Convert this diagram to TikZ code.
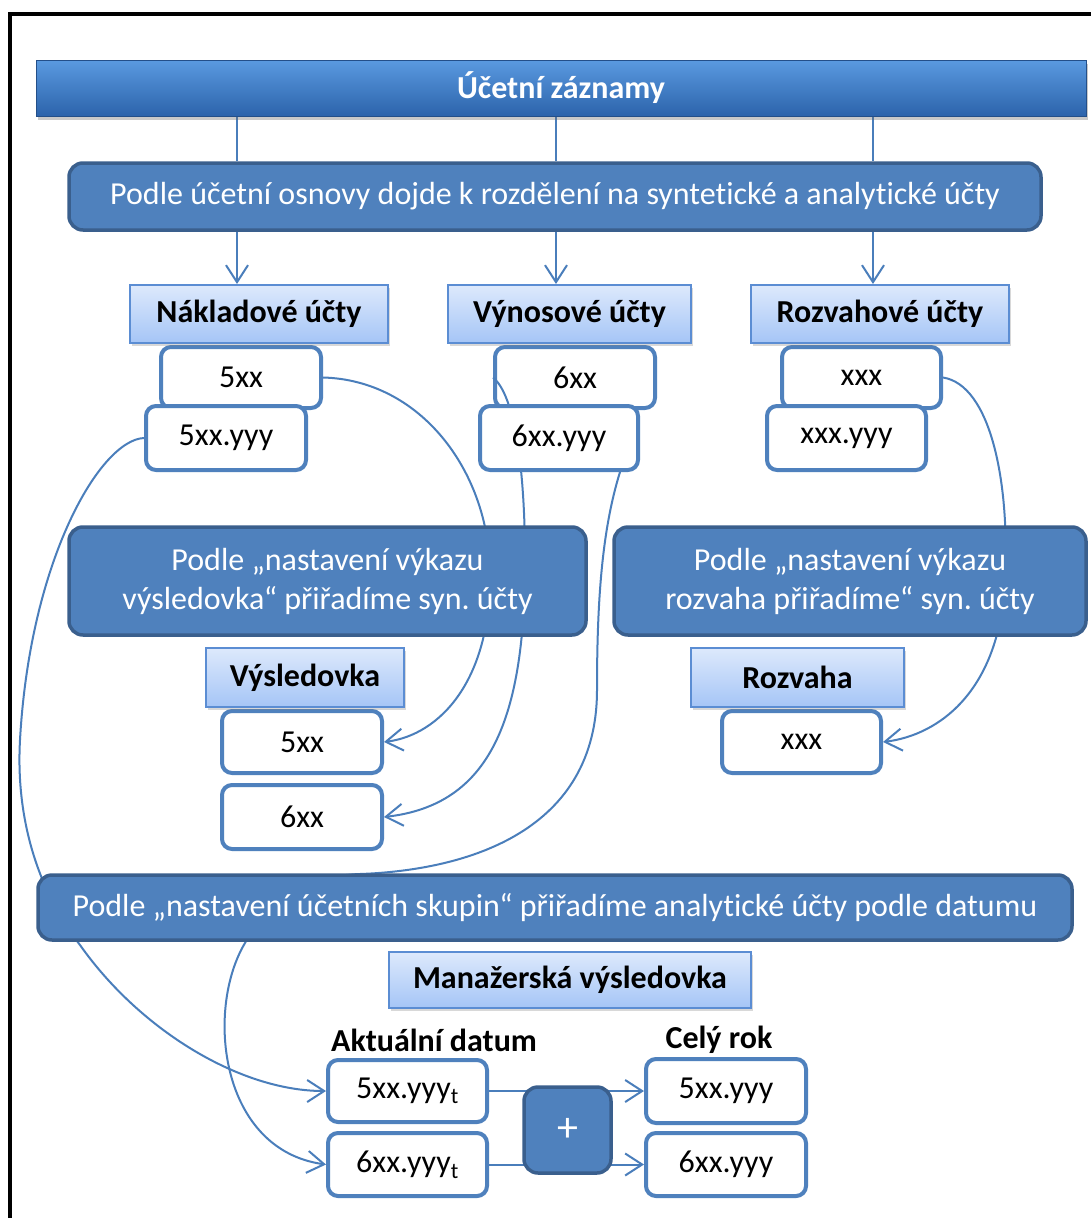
\documentclass[tikz,border=0pt]{standalone}
\usepackage{fontspec}
\setmainfont[Ligatures={NoCommon}]{Carlito}
\frenchspacing
\usetikzlibrary{arrows.meta,shadows,calc}

\definecolor{darkfill}{HTML}{4F81BD}
\definecolor{darkedge}{HTML}{3A5F8D}
\definecolor{linkblue}{HTML}{4A7EBB}
\definecolor{hdrtop}{HTML}{DDE9FC}
\definecolor{hdrbot}{HTML}{A5C5F6}
\definecolor{hdredge}{HTML}{5B8DD3}
\definecolor{bartop}{HTML}{5A9AE0}
\definecolor{barbot}{HTML}{2C63AB}

\pgfdeclarelayer{under}
\pgfdeclarelayer{links}
\pgfsetlayers{under,links,main}

\tikzset{
  sz/.style 2 args={minimum width=#1pt, minimum height=#2pt},
  topbar/.style={draw=barbot!80!black, line width=1pt, top color=bartop, bottom color=barbot,
    text=white, font=\bfseries\fontsize{32}{38}\selectfont, inner sep=0pt,
    drop shadow={shadow xshift=2pt, shadow yshift=-4pt, opacity=0.35, fill=black!60}},
  darkbox/.style={draw=darkedge, line width=3.5pt, fill=darkfill, rounded corners=14pt,
    text=white, font=\fontsize{32}{39}\selectfont, align=center, inner sep=0pt},
  hdrbox/.style={draw=hdredge, line width=2pt, top color=hdrtop, bottom color=hdrbot,
    font=\bfseries\fontsize{32}{38}\selectfont, inner sep=0pt,
    drop shadow={shadow xshift=2pt, shadow yshift=-3pt, opacity=0.3, fill=black!50}},
  acct/.style={draw=darkfill, line width=4pt, fill=white, rounded corners=10pt,
    font=\fontsize{32}{38}\selectfont, inner sep=0pt},
  caption/.style={font=\bfseries\fontsize{32}{38}\selectfont, inner sep=0pt},
  link/.style={draw=linkblue, line width=2pt},
  linkarrow/.style={-{Straight Barb[length=17pt,width=22pt,line width=2pt]}},
}

\begin{document}
\begin{tikzpicture}[x=1pt,y=-1pt]
\useasboundingbox (0,0) rectangle (1091,1218);
\begin{pgfonlayer}{under}
  \fill[white] (0,0) rectangle (1091,1218);
\end{pgfonlayer}

% frame
\draw[line width=4pt] (10,1225) -- (10,14) -- (1098,14);

% top level
\node[topbar, sz={1050}{56}] (top) at (561,88) {Účetní záznamy};
\node[darkbox, sz={972}{67}] (osnova) at (555,196.5)
  {Podle účetní osnovy dojde k rozdělení na syntetické a analytické účty};

% account groups
\begin{pgfonlayer}{under}
  \node[acct, sz={160}{61}] (a6) at (575,377.5) {6xx};
\end{pgfonlayer}
\node[acct, sz={160}{61}] (a5) at (241,377.5) {5xx};
\node[acct, sz={160}{64}] (a5y) at (226,438) {5xx.yyy};
\node[acct, sz={158}{64}] (a6y) at (559,438) {6xx.yyy};
\node[acct, sz={159}{61}] (ax) at (861.5,377.5) {xxx};
\node[acct, sz={159}{64}] (axy) at (846.5,438) {xxx.yyy};

\node[hdrbox, sz={258}{58}] (nak) at (259,314) {Nákladové účty};
\node[hdrbox, sz={243}{58}] (vyn) at (569.5,314) {Výnosové účty};
\node[hdrbox, sz={258}{58}] (roz) at (880,314) {Rozvahové účty};

% statements
\node[darkbox, sz={517}{108}] (vvyk) at (327.5,581)
  {Podle „nastavení výkazu\\výsledovka“ přiřadíme syn. účty};
\node[darkbox, sz={472}{108}] (vroz) at (850,581)
  {Podle „nastavení výkazu\\rozvaha přiřadíme“ syn. účty};

\node[acct, sz={160}{62}] (v5) at (302,742) {5xx};
\node[acct, sz={160}{64}] (v6) at (302,817) {6xx};
\node[hdrbox, sz={198}{59}] (hvys) at (305,677.5) {Výsledovka};
\node[acct, sz={159}{62}] (r) at (801.5,742) {xxx};
\node[hdrbox, sz={213}{59}] (hroz) at (797.5,677.5) {Rozvaha};

% accounting groups and management statement
\node[darkbox, sz={1034}{65}] (skup) at (555,907.5)
  {Podle „nastavení účetních skupin“ přiřadíme analytické účty podle datumu};
\node[hdrbox, sz={362}{56}] (hman) at (570,980) {Manažerská výsledovka};

\node[caption] (lakt) at (434,1040) {Aktuální datum};
\node[caption] (lcely) at (719,1040) {Celý rok};

\node[acct, sz={159}{62}] (t5) at (407.5,1091) {5xx.yyy\textsubscript{t}};
\node[acct, sz={159}{63}] (t6) at (407.5,1164.5) {6xx.yyy\textsubscript{t}};
\node[acct, sz={160}{64}] (c5) at (726,1091) {5xx.yyy};
\node[acct, sz={160}{63}] (c6) at (726,1164.5) {6xx.yyy};

\begin{pgfonlayer}{links}
  % straight links
  \foreach \xx/\hb in {237/nak,556/vyn,873/roz}{
    \draw[link] (top.south -| \xx,0) -- (osnova.north -| \xx,0);
    \draw[link, linkarrow] (osnova.south -| \xx,0) -- (\hb.north -| \xx,0);
  }
  \draw[link, linkarrow] (t5.east) -- (c5.west);
  \draw[link, linkarrow] (t6.east) -- (c6.west);

  % synthetic accounts into the statements
  \draw[link, linkarrow] (a5.east) .. controls (420,380) and (488,470) .. (490,570)
    .. controls (492,680) and (440,735) .. (v5.east);
  \draw[link, linkarrow] (a6.west) .. controls (515,395) and (525,470) .. (525,560)
    .. controls (525,720) and (490,805) .. (v6.east);
  \draw[link, linkarrow] (ax.east) .. controls (990,385) and (1010,480) .. (1005,580)
    .. controls (1000,690) and (940,735) .. (r.east);

  % analytic accounts into the management statement
  \draw[link, linkarrow] (a5y.west) .. controls (100,440) and (30,560) .. (20,740)
    .. controls (15,830) and (45,900) .. (80,945)
    .. controls (140,1030) and (240,1091) .. (t5.west);
  \draw[link, linkarrow] ([xshift=-20pt]a6y.south east) .. controls (602,530) and (597,600) .. (597,690)
    .. controls (597,830) and (470,870) .. (360,874)
    .. controls (300,876) and (265,905) .. (245,943)
    .. controls (205,1010) and (220,1150) .. (t6.west);
\end{pgfonlayer}

\node[darkbox, sz={87}{86}, font=\fontsize{42}{46}\selectfont] (plus) at (567.5,1130) {+};
\end{tikzpicture}
\end{document}
